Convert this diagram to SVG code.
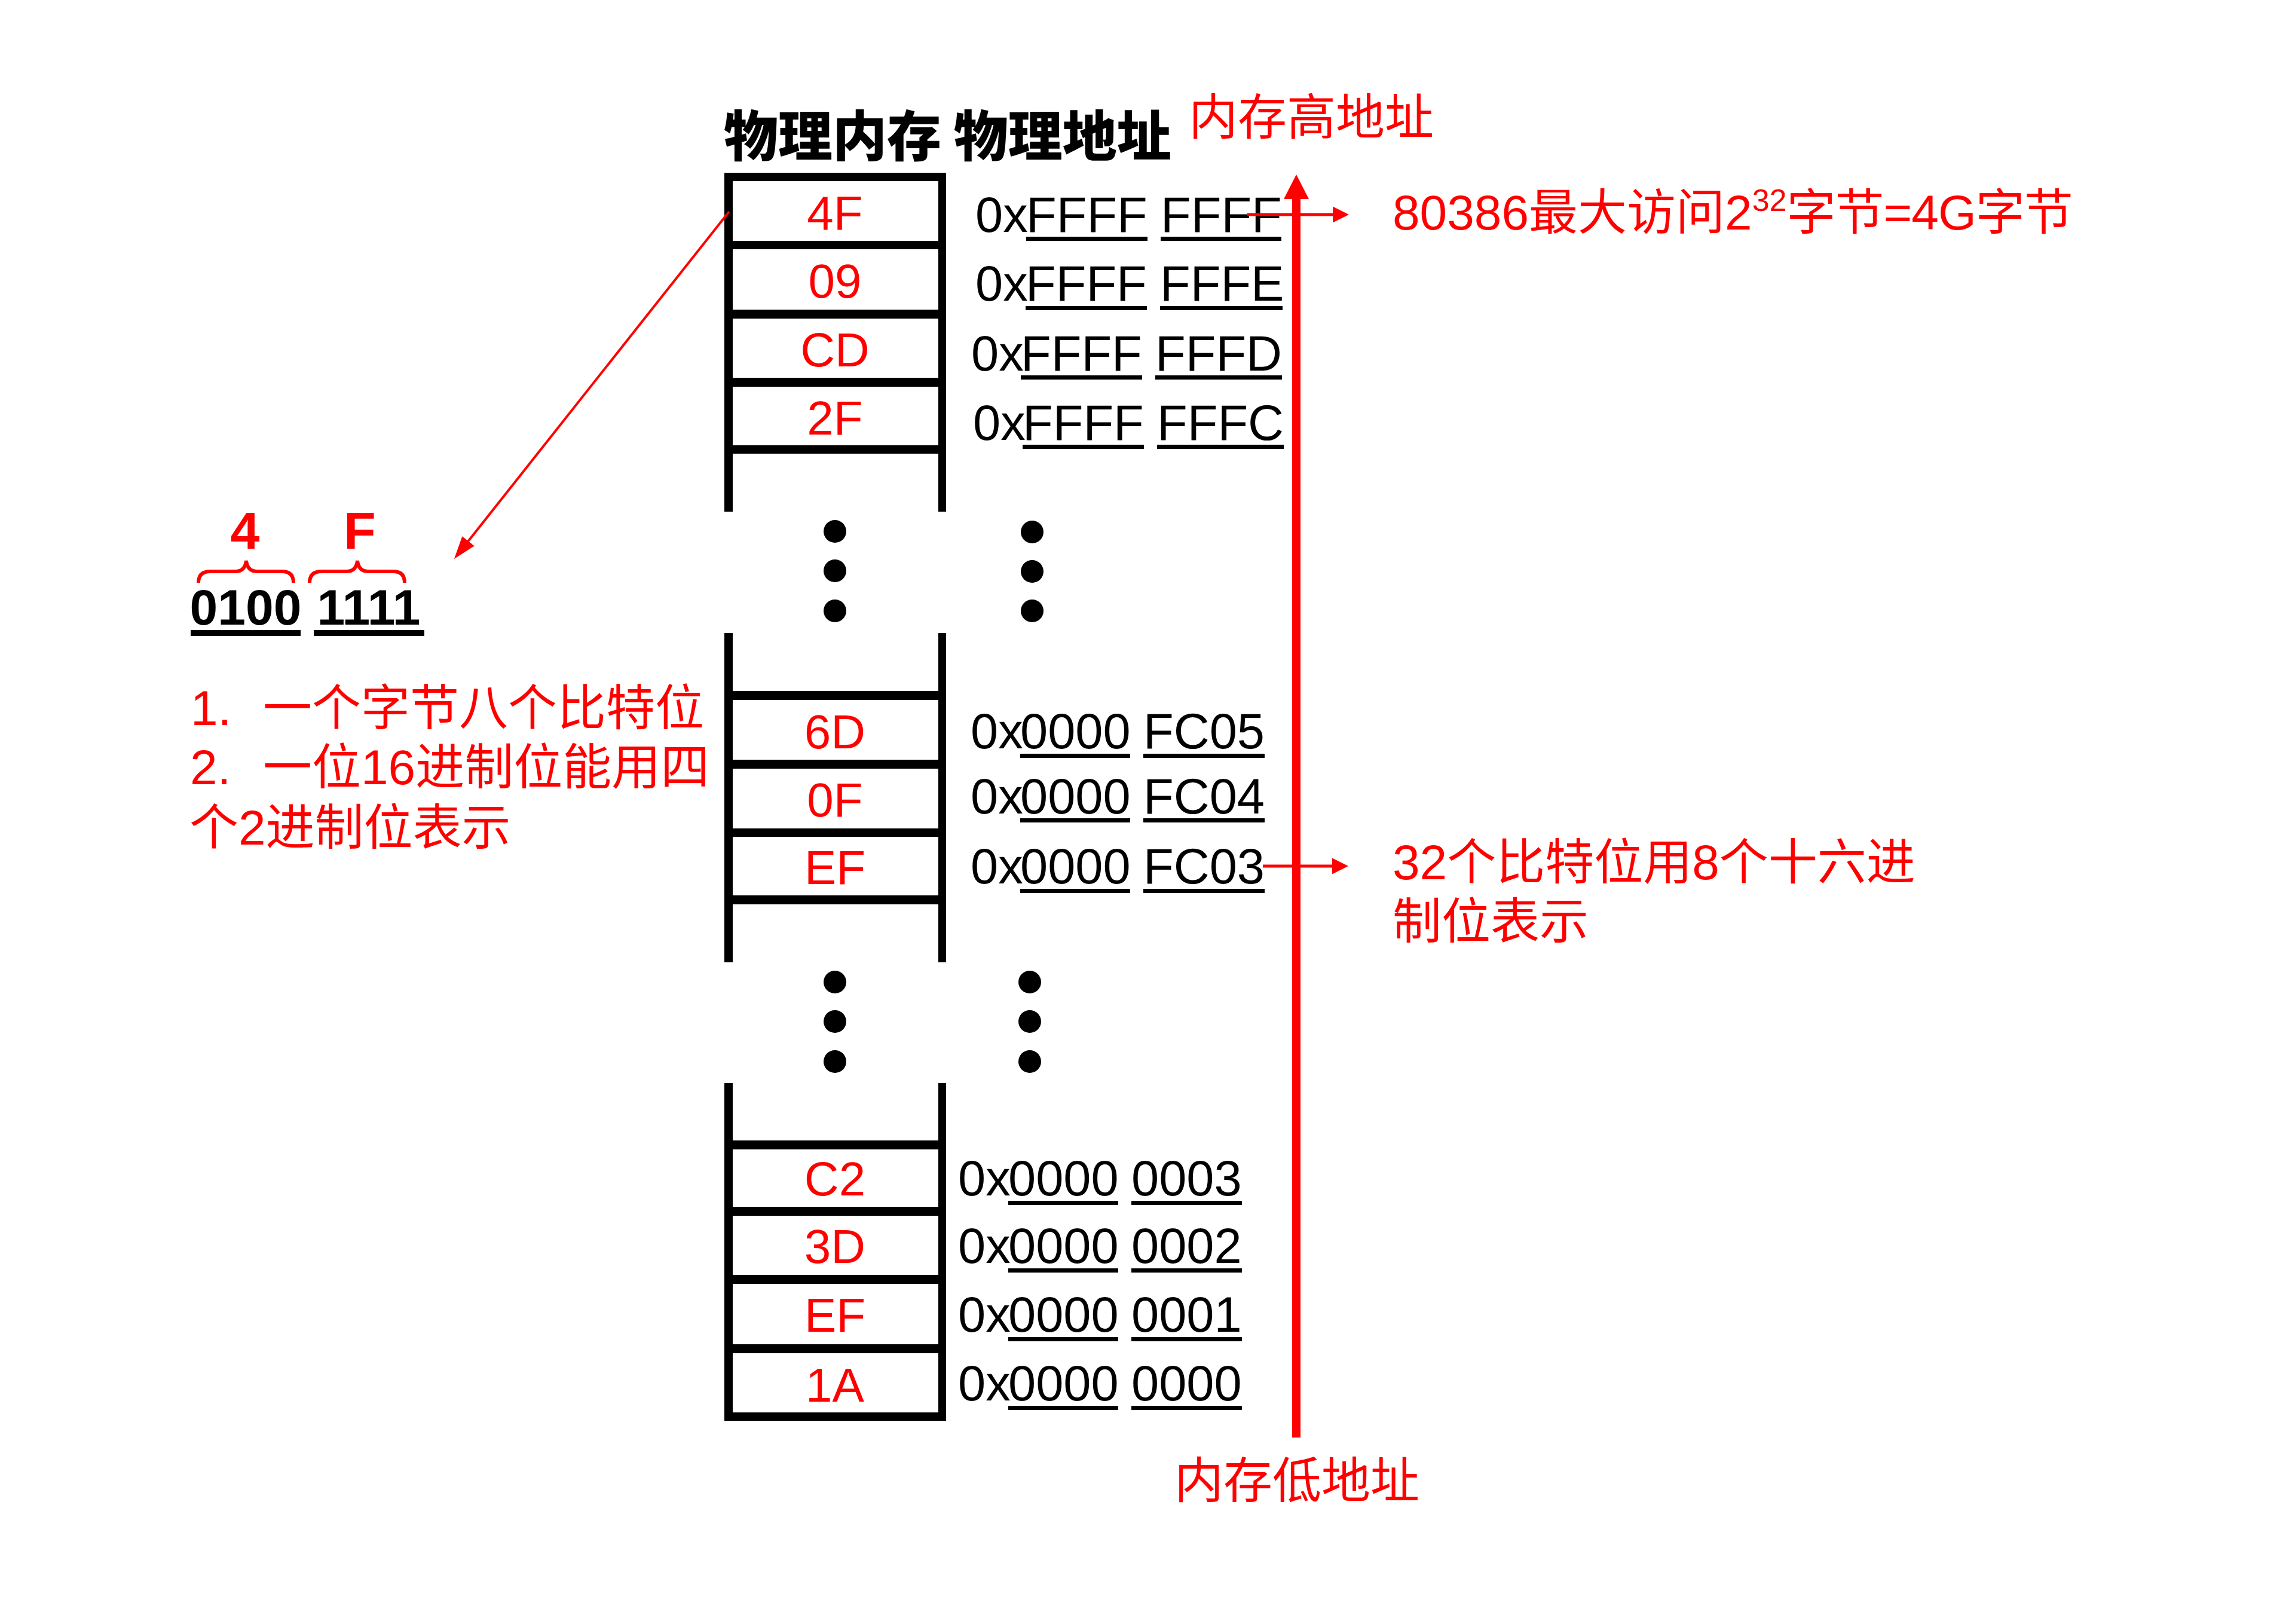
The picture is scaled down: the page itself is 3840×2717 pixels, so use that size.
<svg xmlns="http://www.w3.org/2000/svg" width="3840" height="2717" viewBox="0 0 3840 2717">
  <style>
    .lbl { font-family: "Liberation Sans", "Noto Sans CJK SC", sans-serif; font-size: 80px; fill: #ff0000; text-anchor: middle; }
    .addr { font-family: "Liberation Sans", "Noto Sans CJK SC", sans-serif; font-size: 83px; fill: #000000; }
    .red { font-family: "Liberation Sans", "Noto Sans CJK SC", sans-serif; font-size: 82px; fill: #ff0000; }
    .title { font-family: "Noto Sans CJK SC", "Liberation Sans", sans-serif; font-size: 91px; font-weight: 900; fill: #000000; }
    .bin { font-family: "Liberation Sans", sans-serif; font-size: 84px; font-weight: 700; fill: #000000; text-anchor: middle; }
    .hex { font-family: "Liberation Sans", sans-serif; font-size: 88px; font-weight: 700; fill: #ff0000; text-anchor: middle; }
    .bar { fill: #000000; }
    .ul { fill: #000000; }
    .dot { fill: #000000; }
    .brace { fill: none; stroke: #ff0000; stroke-width: 6; }
  </style>
  <defs>
    <marker id="arrowH" markerUnits="userSpaceOnUse" markerWidth="27" markerHeight="27" refX="6" refY="13.5" orient="auto" viewBox="0 0 27 27">
      <path d="M0,0 L27,13.5 L0,27 z" fill="#ff0000"/>
    </marker>
    <marker id="arrowBig" markerUnits="userSpaceOnUse" markerWidth="41" markerHeight="42" refX="10" refY="21" orient="auto" viewBox="0 0 41 42">
      <path d="M0,0 L41,21 L0,42 z" fill="#ff0000"/>
    </marker>
    <marker id="arrowDiag" markerUnits="userSpaceOnUse" markerWidth="38" markerHeight="26" refX="8" refY="13" orient="auto" viewBox="0 0 38 26">
      <path d="M0,0 L38,13 L0,26 z" fill="#ff0000"/>
    </marker>
  </defs>

  <rect x="0" y="0" width="3840" height="2717" fill="#ffffff"/>

  <!-- Titles -->
  <g id="title">
    <text class="title" x="1211" y="261">物理内存 物理地址</text>
  </g>
  <g id="label-high">
    <text class="red" x="1989" y="225">内存高地址</text>
  </g>
  <g id="label-low">
    <text class="red" x="1965" y="2506">内存低地址</text>
  </g>

  <!-- Memory frame -->
  <g id="memory-frame">
    <!-- top section -->
    <rect class="bar" x="1212" y="289" width="14" height="567"/>
    <rect class="bar" x="1570" y="289" width="13" height="567"/>
    <rect class="bar" x="1212" y="289" width="371" height="14"/>
    <rect class="bar" x="1212" y="403" width="371" height="14"/>
    <rect class="bar" x="1212" y="518" width="371" height="15"/>
    <rect class="bar" x="1212" y="632" width="371" height="15"/>
    <rect class="bar" x="1212" y="745" width="371" height="14"/>
    <!-- middle section -->
    <rect class="bar" x="1212" y="1059" width="14" height="551"/>
    <rect class="bar" x="1570" y="1059" width="13" height="551"/>
    <rect class="bar" x="1212" y="1156" width="371" height="15"/>
    <rect class="bar" x="1212" y="1271" width="371" height="15"/>
    <rect class="bar" x="1212" y="1386" width="371" height="14"/>
    <rect class="bar" x="1212" y="1498" width="371" height="15"/>
    <!-- bottom section -->
    <rect class="bar" x="1212" y="1812" width="14" height="565"/>
    <rect class="bar" x="1570" y="1812" width="13" height="565"/>
    <rect class="bar" x="1212" y="1908" width="371" height="15"/>
    <rect class="bar" x="1212" y="2019" width="371" height="15"/>
    <rect class="bar" x="1212" y="2133" width="371" height="15"/>
    <rect class="bar" x="1212" y="2249" width="371" height="15"/>
    <rect class="bar" x="1212" y="2363" width="371" height="14"/>
  </g>

  <!-- Memory cells -->
  <g id="cell-ffffffff">
    <text class="lbl" x="1397" y="384">4F</text>
    <text class="addr" x="1632" y="388">0x<tspan x="1717">FFFF</tspan> <tspan x="1942">FFFF</tspan></text>
    <rect class="ul" x="1717" y="396" width="203" height="7"/>
    <rect class="ul" x="1942" y="396" width="202" height="7"/>
  </g>
  <g id="cell-fffffffe">
    <text class="lbl" x="1397" y="498">09</text>
    <text class="addr" x="1632" y="503">0x<tspan x="1716">FFFF</tspan> <tspan x="1941">FFFE</tspan></text>
    <rect class="ul" x="1716" y="512" width="203" height="7"/>
    <rect class="ul" x="1941" y="512" width="205" height="7"/>
  </g>
  <g id="cell-fffffffd">
    <text class="lbl" x="1397" y="613">CD</text>
    <text class="addr" x="1625" y="620">0x<tspan x="1708">FFFF</tspan> <tspan x="1933">FFFD</tspan></text>
    <rect class="ul" x="1708" y="628" width="203" height="7"/>
    <rect class="ul" x="1933" y="628" width="212" height="7"/>
  </g>
  <g id="cell-fffffffc">
    <text class="lbl" x="1397" y="727">2F</text>
    <text class="addr" x="1628" y="736">0x<tspan x="1711">FFFF</tspan> <tspan x="1936">FFFC</tspan></text>
    <rect class="ul" x="1711" y="744" width="203" height="7"/>
    <rect class="ul" x="1936" y="744" width="212" height="7"/>
  </g>

  <g id="dots-1">
    <circle class="dot" cx="1397" cy="889" r="19"/>
    <circle class="dot" cx="1397" cy="955" r="19"/>
    <circle class="dot" cx="1397" cy="1022" r="19"/>
    <circle class="dot" cx="1727" cy="890" r="19"/>
    <circle class="dot" cx="1727" cy="956" r="19"/>
    <circle class="dot" cx="1727" cy="1022" r="19"/>
  </g>

  <g id="cell-0000fc05">
    <text class="lbl" x="1397" y="1252">6D</text>
    <text class="addr" x="1624" y="1252">0x<tspan x="1707">0000</tspan> <tspan x="1913">FC05</tspan></text>
    <rect class="ul" x="1707" y="1261" width="184" height="7"/>
    <rect class="ul" x="1913" y="1261" width="203" height="7"/>
  </g>
  <g id="cell-0000fc04">
    <text class="lbl" x="1397" y="1366">0F</text>
    <text class="addr" x="1624" y="1361">0x<tspan x="1707">0000</tspan> <tspan x="1913">FC04</tspan></text>
    <rect class="ul" x="1707" y="1369" width="184" height="7"/>
    <rect class="ul" x="1913" y="1369" width="203" height="7"/>
  </g>
  <g id="cell-0000fc03">
    <text class="lbl" x="1397" y="1479">EF</text>
    <text class="addr" x="1624" y="1478">0x<tspan x="1707">0000</tspan> <tspan x="1913">FC03</tspan></text>
    <rect class="ul" x="1707" y="1487" width="184" height="7"/>
    <rect class="ul" x="1913" y="1487" width="203" height="7"/>
  </g>

  <g id="dots-2">
    <circle class="dot" cx="1397" cy="1643" r="19"/>
    <circle class="dot" cx="1397" cy="1709" r="19"/>
    <circle class="dot" cx="1397" cy="1776" r="19"/>
    <circle class="dot" cx="1723" cy="1643" r="19"/>
    <circle class="dot" cx="1723" cy="1709" r="19"/>
    <circle class="dot" cx="1723" cy="1776" r="19"/>
  </g>

  <g id="cell-00000003">
    <text class="lbl" x="1397" y="2000">C2</text>
    <text class="addr" x="1603" y="2000">0x<tspan x="1687">0000</tspan> <tspan x="1893">0003</tspan></text>
    <rect class="ul" x="1687" y="2009" width="184" height="7"/>
    <rect class="ul" x="1893" y="2009" width="185" height="7"/>
  </g>
  <g id="cell-00000002">
    <text class="lbl" x="1397" y="2113">3D</text>
    <text class="addr" x="1603" y="2113">0x<tspan x="1687">0000</tspan> <tspan x="1893">0002</tspan></text>
    <rect class="ul" x="1687" y="2122" width="184" height="7"/>
    <rect class="ul" x="1893" y="2122" width="185" height="7"/>
  </g>
  <g id="cell-00000001">
    <text class="lbl" x="1397" y="2228">EF</text>
    <text class="addr" x="1603" y="2228">0x<tspan x="1687">0000</tspan> <tspan x="1893">0001</tspan></text>
    <rect class="ul" x="1687" y="2237" width="184" height="7"/>
    <rect class="ul" x="1893" y="2237" width="185" height="7"/>
  </g>
  <g id="cell-00000000">
    <text class="lbl" x="1397" y="2345">1A</text>
    <text class="addr" x="1603" y="2343">0x<tspan x="1687">0000</tspan> <tspan x="1893">0000</tspan></text>
    <rect class="ul" x="1687" y="2352" width="184" height="7"/>
    <rect class="ul" x="1893" y="2352" width="185" height="7"/>
  </g>

  <!-- Binary breakdown -->
  <g id="binary">
    <text class="hex" x="410" y="918">4</text>
    <text class="hex" x="602" y="918">F</text>
    <path class="brace" d="M332,975 Q332,956 352,956 L394,956 Q410,956 412,938 Q414,956 430,956 L472,956 Q491,956 491,975"/>
    <path class="brace" d="M518,975 Q518,956 538,956 L580,956 Q596,956 598,938 Q600,956 616,956 L658,956 Q677,956 677,975"/>
    <text class="bin" x="411" y="1045">0100</text>
    <text class="bin" x="617" y="1045">1111</text>
    <rect class="ul" x="319" y="1054" width="184" height="10"/>
    <rect class="ul" x="525" y="1054" width="185" height="10"/>
  </g>

  <!-- Notes -->
  <g id="note-left">
    <text class="red" x="319" y="1213">1.<tspan x="440">一个字节八个比特位</tspan></text>
    <text class="red" x="318" y="1312">2.<tspan x="440">一位16进制位能用四</tspan></text>
    <text class="red" x="317" y="1413">个2进制位表示</text>
  </g>
  <g id="note-4g">
    <text class="red" x="2330" y="384" style="font-size:82px">80386最大访问2<tspan dy="-31" style="font-size:52px">32</tspan><tspan dy="31" letter-spacing="-1">字节=4G字节</tspan></text>
  </g>
  <g id="note-32bit">
    <text class="red" x="2330" y="1471">32个比特位用8个十六进</text>
    <text class="red" x="2330" y="1570">制位表示</text>
  </g>

  <!-- Connectors -->
  <g id="connectors" fill="none" stroke="#ff0000">
    <line x1="2169" y1="2405" x2="2169" y2="323" stroke-width="14" marker-end="url(#arrowBig)"/>
    <line x1="2087" y1="359" x2="2236" y2="359" stroke-width="5" marker-end="url(#arrowH)"/>
    <line x1="2113" y1="1449" x2="2235" y2="1449" stroke-width="5" marker-end="url(#arrowH)"/>
    <line x1="1220" y1="354" x2="778.6" y2="911.5" stroke-width="4" marker-end="url(#arrowDiag)"/>
  </g>
</svg>
